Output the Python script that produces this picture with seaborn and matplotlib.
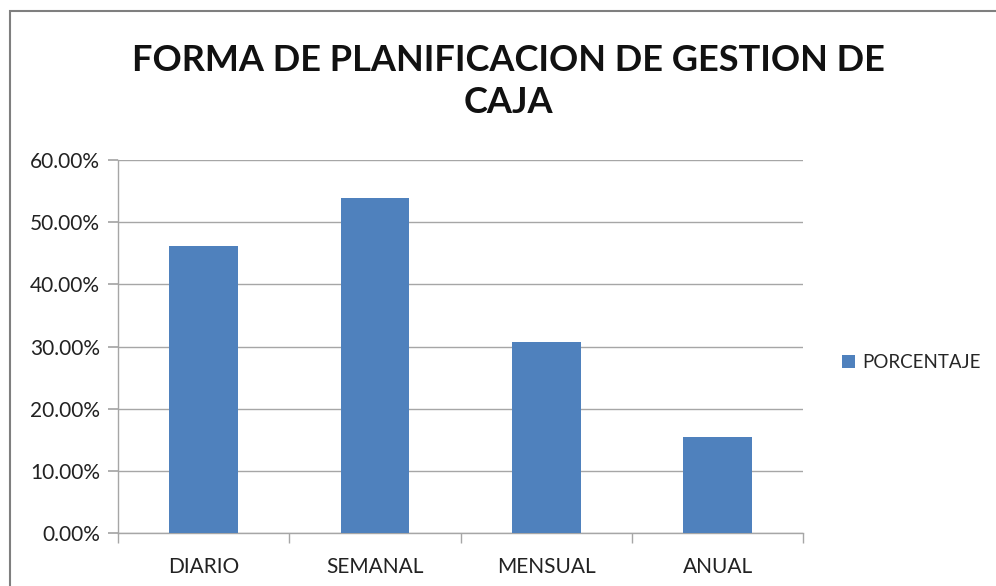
import matplotlib
matplotlib.use("Agg")
import matplotlib.pyplot as plt
import seaborn as sns
import pandas as pd
from matplotlib.patches import Rectangle, Patch
from matplotlib.ticker import PercentFormatter, FixedLocator

categorias = ["DIARIO", "SEMANAL", "MENSUAL", "ANUAL"]
porcentaje = [46.15, 53.85, 30.77, 15.38]
serie = "PORCENTAJE"

df = pd.DataFrame({"forma": categorias, "valor": porcentaje})

sns.set_theme(style="white")
plt.rcParams["font.family"] = ["Lato", "DejaVu Sans"]

fig = plt.figure(figsize=(9.96, 5.86), dpi=100)
ax = fig.add_axes([0.1185, 0.0904, 0.688, 0.6365])

color = "#4F81BD"
sns.barplot(data=df, x="forma", y="valor", color=color, width=0.4,
            saturation=1, linewidth=0, ax=ax, zorder=3)

ax.set_ylim(0, 60)
ax.set_xlim(-0.5, 3.5)
ax.set_yticks(range(0, 61, 10))
ax.yaxis.set_major_formatter(PercentFormatter(decimals=2))
ax.grid(axis="y", color="#a6a6a6", linewidth=1, zorder=0)
ax.set_xlabel("")
ax.set_ylabel("")

for s in ["top", "right"]:
    ax.spines[s].set_visible(False)
for s in ["left", "bottom"]:
    ax.spines[s].set_color("#a6a6a6")
    ax.spines[s].set_linewidth(1)

ax.tick_params(axis="y", which="major", left=True, length=7, color="#a6a6a6",
               labelsize=15, labelcolor="#222222", pad=6)
ax.tick_params(axis="x", which="major", bottom=False, labelsize=15,
               labelcolor="#222222", pad=11)
ax.xaxis.set_minor_locator(FixedLocator([-0.5, 0.5, 1.5, 2.5, 3.5]))
ax.tick_params(axis="x", which="minor", bottom=True, length=7,
               color="#a6a6a6", width=1)

fig.text(0.51, 0.861, "FORMA DE PLANIFICACION DE GESTION DE\nCAJA",
         ha="center", va="center", fontsize=26, fontweight="bold",
         color="#111111", linespacing=1.3)

handles = [Patch(facecolor=color, edgecolor="none", label=serie)]
fig.legend(handles=handles, loc="center left", bbox_to_anchor=(0.828, 0.382),
           frameon=False, fontsize=13.5, handlelength=0.7, handleheight=0.7,
           handletextpad=0.4)

fig.patches.append(Rectangle((10 / 996, -0.05), 1.2, 1.05 - 11 / 586,
                             transform=fig.transFigure, fill=False,
                             edgecolor="#7f7f7f", linewidth=1.5))

fig.savefig("out.png", dpi=100)
